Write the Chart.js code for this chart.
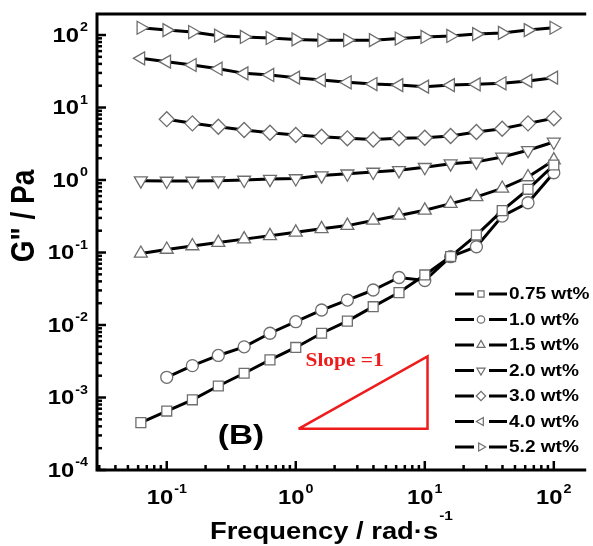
<!DOCTYPE html>
<html>
<head>
<meta charset="utf-8">
<script src="https://cdn.jsdelivr.net/npm/chart.js@4"></script>
<style>
  html, body { margin: 0; padding: 0; background: #fff; }
  canvas { display: block; }
</style>
</head>
<body>
<canvas id="grafico" width="593" height="546"></canvas>
<script>
// frequências (rad/s)
const freq17 = [0.063, 0.1, 0.158, 0.251, 0.398, 0.631, 1, 1.585, 2.512, 3.981, 6.31, 10, 15.85, 25.12, 39.81, 63.1, 100];
const freq16 = [0.1, 0.158, 0.251, 0.398, 0.631, 1, 1.585, 2.512, 3.981, 6.31, 10, 15.85, 25.12, 39.81, 63.1, 100];

// G'' (Pa) para cada concentração
const g075 = [0.00045, 0.00065, 0.00093, 0.00144, 0.00216, 0.0033, 0.0049, 0.0077, 0.0113, 0.0179, 0.028, 0.049, 0.088, 0.174, 0.378, 0.745, 1.61];
const g10  = [0.0019, 0.00275, 0.0038, 0.005, 0.0077, 0.0111, 0.0161, 0.0221, 0.0304, 0.0452, 0.0411, 0.0875, 0.12, 0.318, 0.486, 1.26];
const g15  = [0.097, 0.11, 0.123, 0.137, 0.153, 0.17, 0.19, 0.212, 0.235, 0.277, 0.325, 0.382, 0.472, 0.585, 0.765, 1.1, 1.88];
const g20  = [0.98, 0.97, 0.97, 0.98, 1.0, 1.03, 1.05, 1.15, 1.22, 1.29, 1.36, 1.5, 1.68, 1.78, 2.08, 2.57, 3.35];
const g30  = [6.9, 6.05, 5.43, 4.9, 4.49, 4.18, 3.96, 3.76, 3.62, 3.76, 3.83, 4.05, 4.6, 5.1, 6.05, 7.1];
const g40  = [47.7, 42.9, 38.6, 34.3, 29.6, 28.1, 25.8, 23.9, 22.3, 21.1, 20.4, 19.4, 20.4, 20.9, 21.6, 23.3, 25.8];
const g52  = [126, 117, 110, 98, 94, 91, 87, 85, 85, 85, 89.5, 94, 97, 103, 107, 117, 126];

const rotulos = ['0.75 wt%', '1.0 wt%', '1.5 wt%', '2.0 wt%', '3.0 wt%', '4.0 wt%', '5.2 wt%'];

// triângulo de inclinação 1
const slopeX = [1.05, 10.5, 10.5, 1.05];
const slopeY = [3.7e-4, 3.7e-4, 3.7e-3, 3.7e-4];

const series = [
  { x: freq17, y: g075, estilo: 'rect', rot: 0, r: 7 },
  { x: freq16, y: g10, estilo: 'circle', rot: 0, r: 6 },
  { x: freq17, y: g15, estilo: 'triangle', rot: 0, r: 7.5 },
  { x: freq17, y: g20, estilo: 'triangle', rot: 180, r: 7.5 },
  { x: freq16, y: g30, estilo: 'rectRot', rot: 0, r: 7.5 },
  { x: freq17, y: g40, estilo: 'triangle', rot: 270, r: 7.5 },
  { x: freq17, y: g52, estilo: 'triangle', rot: 90, r: 7.5 }
];

const FONTE = '"Liberation Sans", Arial, sans-serif';
const SX = 1.19; // o original está esticado na horizontal

// texto esticado na horizontal
function texto(ctx, str, x, y, fonte, alinhamento) {
  ctx.save();
  ctx.font = fonte;
  const w = ctx.measureText(str).width * SX;
  const x0 = alinhamento === 'right' ? x - w : alinhamento === 'center' ? x - w / 2 : x;
  ctx.translate(x0, y);
  ctx.scale(SX, 1);
  ctx.textAlign = 'left';
  ctx.fillText(str, 0, 0);
  ctx.restore();
  return w;
}

function largura(ctx, str, fonte) {
  ctx.font = fonte;
  return ctx.measureText(str).width * SX;
}

function potencia(ctx, exp, x, y, alinhamento) {
  const fb = 'bold 20px ' + FONTE, fe = 'bold 12px ' + FONTE;
  const wb = largura(ctx, '10', fb);
  const we = largura(ctx, String(exp), fe);
  const x0 = alinhamento === 'right' ? x - wb - we - 1 : x - (wb + we + 1) / 2;
  ctx.textBaseline = 'middle';
  texto(ctx, '10', x0, y, fb, 'left');
  texto(ctx, String(exp), x0 + wb + 1, y - 8, fe, 'left');
}

const eixos = {
  id: 'eixos',
  afterDraw(chart) {
    const { ctx, chartArea: a, scales: { x, y } } = chart;
    ctx.save();
    ctx.strokeStyle = '#000';
    ctx.fillStyle = '#000';

    // moldura
    ctx.lineWidth = 3;
    ctx.beginPath();
    ctx.moveTo(a.right + 2, a.top);
    ctx.lineTo(a.left, a.top);
    ctx.lineTo(a.left, a.bottom);
    ctx.lineTo(a.right + 2, a.bottom);
    ctx.stroke();

    // marcas
    ctx.lineWidth = 2.5;
    for (let e = -4; e <= 2; e++) {
      for (let k = 1; k <= 9; k++) {
        const v = k * Math.pow(10, e);
        if (v < y.min || v > y.max) continue;
        const py = y.getPixelForValue(v);
        const len = k === 1 ? 9 : 5;
        ctx.beginPath(); ctx.moveTo(a.left, py); ctx.lineTo(a.left + len, py); ctx.stroke();
      }
    }
    for (let e = -2; e <= 2; e++) {
      for (let k = 1; k <= 9; k++) {
        const v = k * Math.pow(10, e);
        if (v < x.min || v > x.max) continue;
        const px = x.getPixelForValue(v);
        const len = k === 1 ? 9 : 5;
        ctx.beginPath(); ctx.moveTo(px, a.bottom); ctx.lineTo(px, a.bottom - len); ctx.stroke();
      }
    }

    // rótulos
    for (let e = -4; e <= 2; e++) potencia(ctx, e, 88, y.getPixelForValue(Math.pow(10, e)) + 1, 'right');
    for (let e = -1; e <= 2; e++) potencia(ctx, e, x.getPixelForValue(Math.pow(10, e)), a.bottom + 28, 'center');

    // título x
    ctx.textBaseline = 'alphabetic';
    const wt = texto(ctx, 'Frequency / rad\u00b7s', 210, 539, 'bold 23px ' + FONTE, 'left');
    texto(ctx, '-1', 210 + wt + 1, 520, 'bold 13px ' + FONTE, 'left');

    // título y
    ctx.save();
    ctx.translate(25, 216);
    ctx.scale(SX, 1);
    ctx.rotate(-Math.PI / 2);
    ctx.textAlign = 'center';
    ctx.textBaseline = 'middle';
    ctx.font = 'bold 28px ' + FONTE;
    ctx.fillText('G" / Pa', 0, 0);
    ctx.restore();

    // legenda
    series.forEach((s, i) => {
      const ly = 294 + i * 25.5;
      ctx.strokeStyle = '#000';
      ctx.lineWidth = 3;
      ctx.beginPath();
      ctx.moveTo(455, ly); ctx.lineTo(474, ly);
      ctx.moveTo(489, ly); ctx.lineTo(507, ly);
      ctx.stroke();
      ctx.fillStyle = '#fff';
      ctx.strokeStyle = '#6e6e6e';
      ctx.lineWidth = 1.2;
      Chart.helpers.drawPoint(ctx, { pointStyle: s.estilo, rotation: s.rot, radius: s.r * 0.62, borderWidth: 1.2 }, 481, ly);
      ctx.fillStyle = '#000';
      ctx.textBaseline = 'middle';
      texto(ctx, rotulos[i], 509, ly + 1, 'bold 16px ' + FONTE, 'left');
    });

    // anotações
    ctx.fillStyle = '#ee1c1c';
    ctx.textBaseline = 'middle';
    texto(ctx, 'Slope =1', x.getPixelForValue(slopeX[0]) + 7, y.getPixelForValue(slopeY[2]) + 5,
      'bold 18px "Liberation Serif", "Times New Roman", serif', 'left');

    ctx.fillStyle = '#000';
    texto(ctx, '(B)', 241, 436, 'bold 28px ' + FONTE, 'center');
    ctx.restore();
  }
};

const datasets = series.map(s => ({
  data: s.x.map((v, i) => ({ x: v, y: s.y[i] })),
  borderColor: '#000',
  borderWidth: 3,
  pointStyle: s.estilo,
  rotation: s.rot,
  pointRadius: s.r,
  pointBackgroundColor: '#fff',
  pointBorderColor: '#6e6e6e',
  pointBorderWidth: 1.3,
  tension: 0,
  fill: false
}));

datasets.push({
  data: slopeX.map((v, i) => ({ x: v, y: slopeY[i] })),
  borderColor: '#ee1c1c',
  borderWidth: 2.5,
  pointRadius: 0,
  tension: 0,
  fill: false
});

new Chart(document.getElementById('grafico'), {
  type: 'line',
  data: { datasets },
  options: {
    responsive: false,
    animation: false,
    devicePixelRatio: 1,
    layout: { padding: { left: 97, top: 14, right: 0, bottom: 76 } },
    plugins: { legend: { display: false }, tooltip: { enabled: false } },
    scales: {
      x: { type: 'logarithmic', min: 0.0288, max: 172, display: false },
      y: { type: 'logarithmic', min: 1e-4, max: 195, display: false }
    }
  },
  plugins: [eixos]
});
</script>
</body>
</html>
